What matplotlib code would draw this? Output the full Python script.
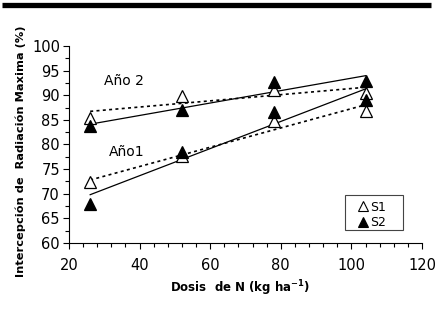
import numpy as np
import matplotlib
matplotlib.use("Agg")
import matplotlib.pyplot as plt
from matplotlib.lines import Line2D
from matplotlib.patches import Rectangle
from matplotlib.ticker import MultipleLocator

plt.rcParams['font.family'] = ['DejaVu Sans']

dosis = [26, 52, 78, 104]
ano2_s1 = [85.4, 89.8, 91.1, 90.4]
ano2_s2 = [83.7, 87.1, 92.6, 92.8]
ano1_s1 = [72.3, 77.7, 84.8, 86.9]
ano1_s2 = [68.0, 78.4, 86.7, 89.1]
yticks = [60, 65, 70, 75, 80, 85, 90, 95, 100]
xticks = [20, 40, 60, 80, 100, 120]

W, H = 440, 314
fig = plt.figure(figsize=(4.4, 3.14), dpi=100)
L, R, T, B = 69, 422, 46, 243
ax = fig.add_axes([L/W, 1-B/H, (R-L)/W, (B-T)/H])

def axx(px):
    return (px - L) / (R - L)

def axy(py):
    return (B - py) / (B - T)

x = np.array(dosis, dtype=float)
dotted = (0, (1.8, 2.0))
for s1, s2 in [(ano2_s1, ano2_s2), (ano1_s1, ano1_s2)]:
    for vals, ls, lw in [(s1, dotted, 1.2), (s2, '-', 0.9)]:
        m, b = np.polyfit(x, vals, 1)
        ax.plot([x[0], x[-1]], [m*x[0]+b, m*x[-1]+b], color='black', lw=lw, ls=ls, zorder=2)

for vals in (ano2_s1, ano1_s1):
    ax.plot(dosis, vals, ls='none', marker='^', ms=9, mfc='white', mec='black', mew=0.9, zorder=3)
for vals in (ano2_s2, ano1_s2):
    ax.plot(dosis, vals, ls='none', marker='^', ms=9, mfc='black', mec='black', mew=0.9, zorder=4)

ax.set_xlim(20, 120)
ax.set_ylim(60, 100)
ax.set_xticks(xticks)
ax.set_yticks(yticks)
ax.xaxis.set_minor_locator(MultipleLocator(4))
ax.yaxis.set_minor_locator(MultipleLocator(2.5))
ax.tick_params(which='major', direction='out', length=4.5, width=0.8, labelsize=10.5)
ax.tick_params(axis='y', which='major', pad=2)
ax.tick_params(axis='x', which='major', pad=6)
ax.tick_params(which='minor', direction='out', length=3, width=0.8)
ax.spines['top'].set_visible(False)
ax.spines['right'].set_visible(False)
ax.set_xlabel('Dosis  de N (kg ha$^{\\mathbf{-1}}$)', fontsize=8.5, fontweight='bold')
ax.xaxis.set_label_coords(axx(240), axy(278))
ax.set_ylabel('Intercepción de  Radiación Maxima (%)', fontsize=8.2, fontweight='bold')
ax.yaxis.set_label_coords(axx(26), axy(151))

ax.text(29.8, 92.9, 'Año 2', fontsize=10, va='center', ha='left')
ax.text(31.3, 78.4, 'Año1', fontsize=10, va='center', ha='left')

h1 = Line2D([], [], ls='none', marker='^', ms=7, mfc='white', mec='black', mew=0.8)
h2 = Line2D([], [], ls='none', marker='^', ms=7, mfc='black', mec='black', mew=0.8)
leg = ax.legend([h1, h2], ['S1', 'S2'], loc='center left',
                bbox_to_anchor=(axx(357), axy(215)),
                fontsize=9, frameon=False, handlelength=0.95,
                handletextpad=0.1, borderpad=0, labelspacing=0.2, borderaxespad=0)
ax.add_patch(Rectangle((axx(345), axy(230)), axx(403) - axx(345), axy(195) - axy(230),
                       transform=ax.transAxes, fill=False, edgecolor='#444444', lw=0.8,
                       zorder=5, clip_on=False))

fig.add_artist(Line2D([2/W, 431/W], [1-4.5/H, 1-4.5/H], color='black', lw=3.8,
                      transform=fig.transFigure, solid_capstyle='butt'))

fig.savefig('out.png', dpi=100)
